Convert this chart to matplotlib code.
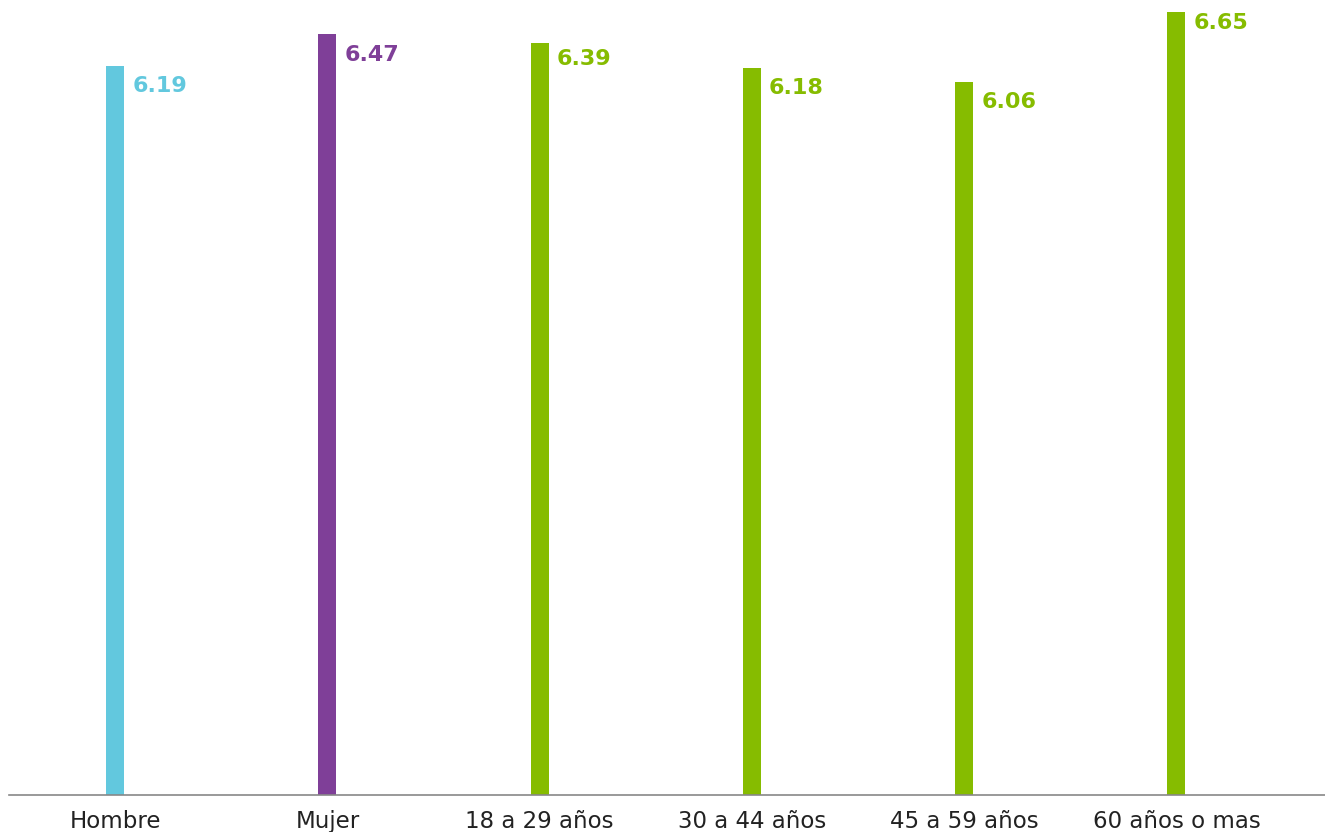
import numpy as np
import matplotlib
matplotlib.use('Agg')
import matplotlib.pyplot as plt
from matplotlib.transforms import offset_copy

# promedio por sexo y grupo de edad
categorias = ["Hombre", "Mujer", "18 a 29 años", "30 a 44 años", "45 a 59 años", "60 años o mas"]
valores = [6.19, 6.47, 6.39, 6.18, 6.06, 6.65]
colores = ["#62C8DE", "#7F3F98", "#86BC00", "#86BC00", "#86BC00", "#86BC00"]
# desplazamiento vertical de cada etiqueta bajo el tope de la barra (pixeles)
bajada_etiqueta = [20, 21, 16, 20, 20, 11]

plt.rcParams['font.family'] = ['DejaVu Sans']

fig = plt.figure(figsize=(13.25, 8.32), dpi=100)
ax = fig.add_axes([9/1325, 37/832, 1316/1325, 795/832])

x = np.arange(len(categorias))
ax.bar(x, valores, width=18/212.4, color=colores)

ax.set_xlim(-0.5, 5.7)
ax.set_ylim(0, 6.755)

# etiquetas de valor a la derecha de cada barra
for xi, v, c, b in zip(x, valores, colores, bajada_etiqueta):
    ax.text(xi, v, f"{v:.2f}", ha='left', va='center', fontsize=16,
            fontweight='bold', color=c,
            transform=offset_copy(ax.transData, fig=fig, x=17, y=-b, units='dots'))

ax.set_xticks(x)
ax.set_xticklabels(categorias, fontsize=16.5, color='#222222')
ax.tick_params(axis='x', length=0, pad=11)
ax.set_yticks([])
for s in ['top', 'right', 'left']:
    ax.spines[s].set_visible(False)
ax.spines['bottom'].set_color('#888888')
ax.spines['bottom'].set_linewidth(1.2)

fig.savefig('out.png', dpi=100)
